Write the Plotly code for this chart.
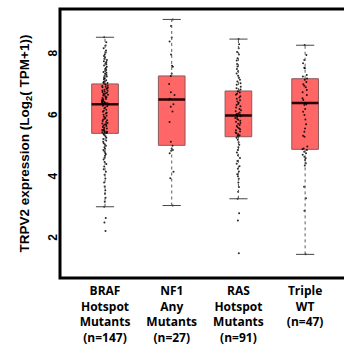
import plotly.graph_objects as go

categories = ["BRAF<br>Hotspot<br>Mutants<br>(n=147)", "NF1<br>Any<br>Mutants<br>(n=27)",
              "RAS<br>Hotspot<br>Mutants<br>(n=91)", "Triple<br>WT<br>(n=47)"]
q1 = [5.45, 5.06, 5.34, 4.93]
median = [6.40, 6.55, 6.03, 6.44]
q3 = [7.06, 7.32, 6.83, 7.23]
lowerfence = [3.06, 3.10, 3.32, 1.51]
upperfence = [8.58, 9.16, 8.52, 8.32]

braf = [8.58, 8.42, 8.31, 8.22, 8.15, 8.08, 8.02, 7.97, 7.93, 7.88, 7.84, 7.80, 7.77, 7.73, 7.70,
        7.66, 7.62, 7.58, 7.55, 7.51, 7.48, 7.45, 7.42, 7.39, 7.36, 7.33, 7.30, 7.27, 7.24, 7.21,
        7.18, 7.15, 7.13, 7.11, 7.09, 7.07,
        7.04, 7.01, 6.99, 6.97, 6.95, 6.94, 6.91, 6.90, 6.87, 6.85, 6.84, 6.81, 6.80, 6.77, 6.75,
        6.74, 6.71, 6.71, 6.68, 6.66, 6.63, 6.62, 6.60, 6.57, 6.56, 6.53, 6.52, 6.50, 6.48, 6.47,
        6.46, 6.45, 6.43, 6.43, 6.42, 6.41,
        6.40,
        6.38, 6.35, 6.33, 6.29, 6.27, 6.22, 6.19, 6.15, 6.12, 6.10, 6.06, 6.02, 5.99, 5.96, 5.93,
        5.90, 5.88, 5.85, 5.82, 5.79, 5.77, 5.75, 5.74, 5.71, 5.69, 5.66, 5.63, 5.61, 5.58, 5.56,
        5.54, 5.52, 5.50, 5.49, 5.48, 5.47, 5.46,
        5.43, 5.40, 5.36, 5.31, 5.27, 5.22, 5.18, 5.13, 5.09, 5.05, 5.00, 4.95, 4.91, 4.86, 4.81,
        4.77, 4.72, 4.66, 4.60, 4.52, 4.45, 4.37, 4.28, 4.20, 4.10, 3.98, 3.85, 3.72, 3.60, 3.48,
        3.35, 3.22, 3.06, 2.69, 2.55, 2.27]
nf1 = [9.16, 8.95, 8.57, 8.44, 8.02, 7.65, 7.62, 7.40, 7.32, 7.06, 6.79, 6.70, 6.58, 6.55,
       6.40, 6.32, 6.16, 5.82, 5.18, 5.05, 4.96, 4.91, 4.88, 4.80, 4.20, 3.99, 3.10]
ras = [8.52, 8.35, 8.22, 8.10, 8.02, 7.90, 7.82, 7.71, 7.63, 7.55, 7.47, 7.40, 7.33, 7.26, 7.20,
       7.14, 7.08, 7.03, 6.97, 6.92, 6.88, 6.85,
       6.81, 6.78, 6.74, 6.71, 6.66, 6.62, 6.58, 6.53, 6.49, 6.45, 6.41, 6.37, 6.33, 6.29, 6.24,
       6.20, 6.17, 6.13, 6.10, 6.08, 6.06, 6.04,
       6.03,
       6.01, 5.98, 5.95, 5.92, 5.89, 5.86, 5.83, 5.79, 5.76, 5.72, 5.69, 5.65, 5.62, 5.58, 5.55,
       5.51, 5.48, 5.45, 5.42, 5.39, 5.37, 5.35,
       5.31, 5.24, 5.16, 5.08, 5.00, 4.91, 4.83, 4.74, 4.65, 4.55, 4.46, 4.38, 4.30, 4.21, 4.12,
       4.05, 3.97, 3.85, 3.70, 3.55, 3.32, 2.85, 2.61, 1.55]
triple = [8.33, 8.00, 7.84, 7.73, 7.59, 7.57, 7.35, 7.30, 7.24, 7.20, 7.12, 7.05, 7.00, 6.95,
          6.86, 6.79, 6.70, 6.59, 6.54, 6.44, 6.40, 6.37, 6.24, 6.15, 6.05, 5.90, 5.75, 5.61,
          5.50, 5.37, 5.34, 5.02, 4.96, 4.93, 4.91, 4.85, 4.80, 4.75, 4.69, 4.64, 4.58, 4.48,
          4.40, 3.71, 3.34, 2.93, 1.51]
points = [braf, nf1, ras, triple]

y_ticks = [2, 4, 6, 8]
y_title = "<b>TRPV2 expression (Log<sub>2</sub>( TPM+1))</b>"

BOX_W = 0.4
fig = go.Figure()

# filled boxes (no whiskers)
fig.add_trace(go.Box(x=categories, q1=q1, median=median, q3=q3,
                     lowerfence=q1, upperfence=q3, width=BOX_W, boxpoints=False,
                     fillcolor="rgb(255,102,102)", line=dict(color="rgb(140,90,90)", width=1),
                     whiskerwidth=0, showlegend=False, hoverinfo="skip"))
# median lines
fig.add_trace(go.Box(x=categories, q1=median, median=median, q3=median,
                     lowerfence=median, upperfence=median, width=BOX_W, boxpoints=False,
                     fillcolor="rgba(0,0,0,0)", line=dict(color="rgb(40,0,0)", width=2.5),
                     whiskerwidth=0, showlegend=False, hoverinfo="skip"))
# dotted whiskers
wx, wy = [], []
for c, lf, a, b, uf in zip(categories, lowerfence, q1, q3, upperfence):
    wx += [c, c, None, c, c, None]
    wy += [lf, a, None, b, uf, None]
fig.add_trace(go.Scatter(x=wx, y=wy, mode="lines",
                         line=dict(color="rgb(90,90,90)", width=1, dash="dot"),
                         showlegend=False, hoverinfo="skip"))
# caps
for fence in (lowerfence, upperfence):
    fig.add_trace(go.Scatter(x=categories, y=fence, mode="markers",
                             marker=dict(symbol="line-ew", size=13,
                                         line=dict(color="rgb(70,70,70)", width=1)),
                             showlegend=False, hoverinfo="skip"))
# jittered points
for c, pts in zip(categories, points):
    fig.add_trace(go.Box(x=[c] * len(pts), y=pts, width=BOX_W, boxpoints="all", jitter=0.25,
                         pointpos=0, fillcolor="rgba(0,0,0,0)",
                         line=dict(color="rgba(0,0,0,0)", width=0),
                         marker=dict(color="rgba(0,0,0,0.85)", size=2),
                         showlegend=False, hoverinfo="skip"))

fig.update_layout(
    width=344, height=349, margin=dict(l=60, r=0, t=9, b=71),
    paper_bgcolor="white", plot_bgcolor="white", boxmode="overlay",
    font=dict(family="Liberation Sans", color="black"),
    xaxis=dict(type="category", range=[-0.675, 3.583], showgrid=False, zeroline=False,
               showline=False, ticks="", ticklabelstandoff=4,
               tickfont=dict(family="Open Sans", size=12, weight="bold", color="black")),
    yaxis=dict(range=[0.74, 9.5], tickvals=y_ticks, tickangle=-90, showgrid=False,
               zeroline=False, showline=False, ticks="",
               tickfont=dict(family="Liberation Sans", size=12, weight="bold"),
               title=dict(text=y_title, standoff=12,
                          font=dict(family="Liberation Sans", size=13.5))),
    shapes=[dict(type="rect", xref="paper", yref="paper", x0=0, x1=1.1, y0=0, y1=1,
                 line=dict(color="black", width=3), layer="above")],
)
fig.write_html("out.html")
